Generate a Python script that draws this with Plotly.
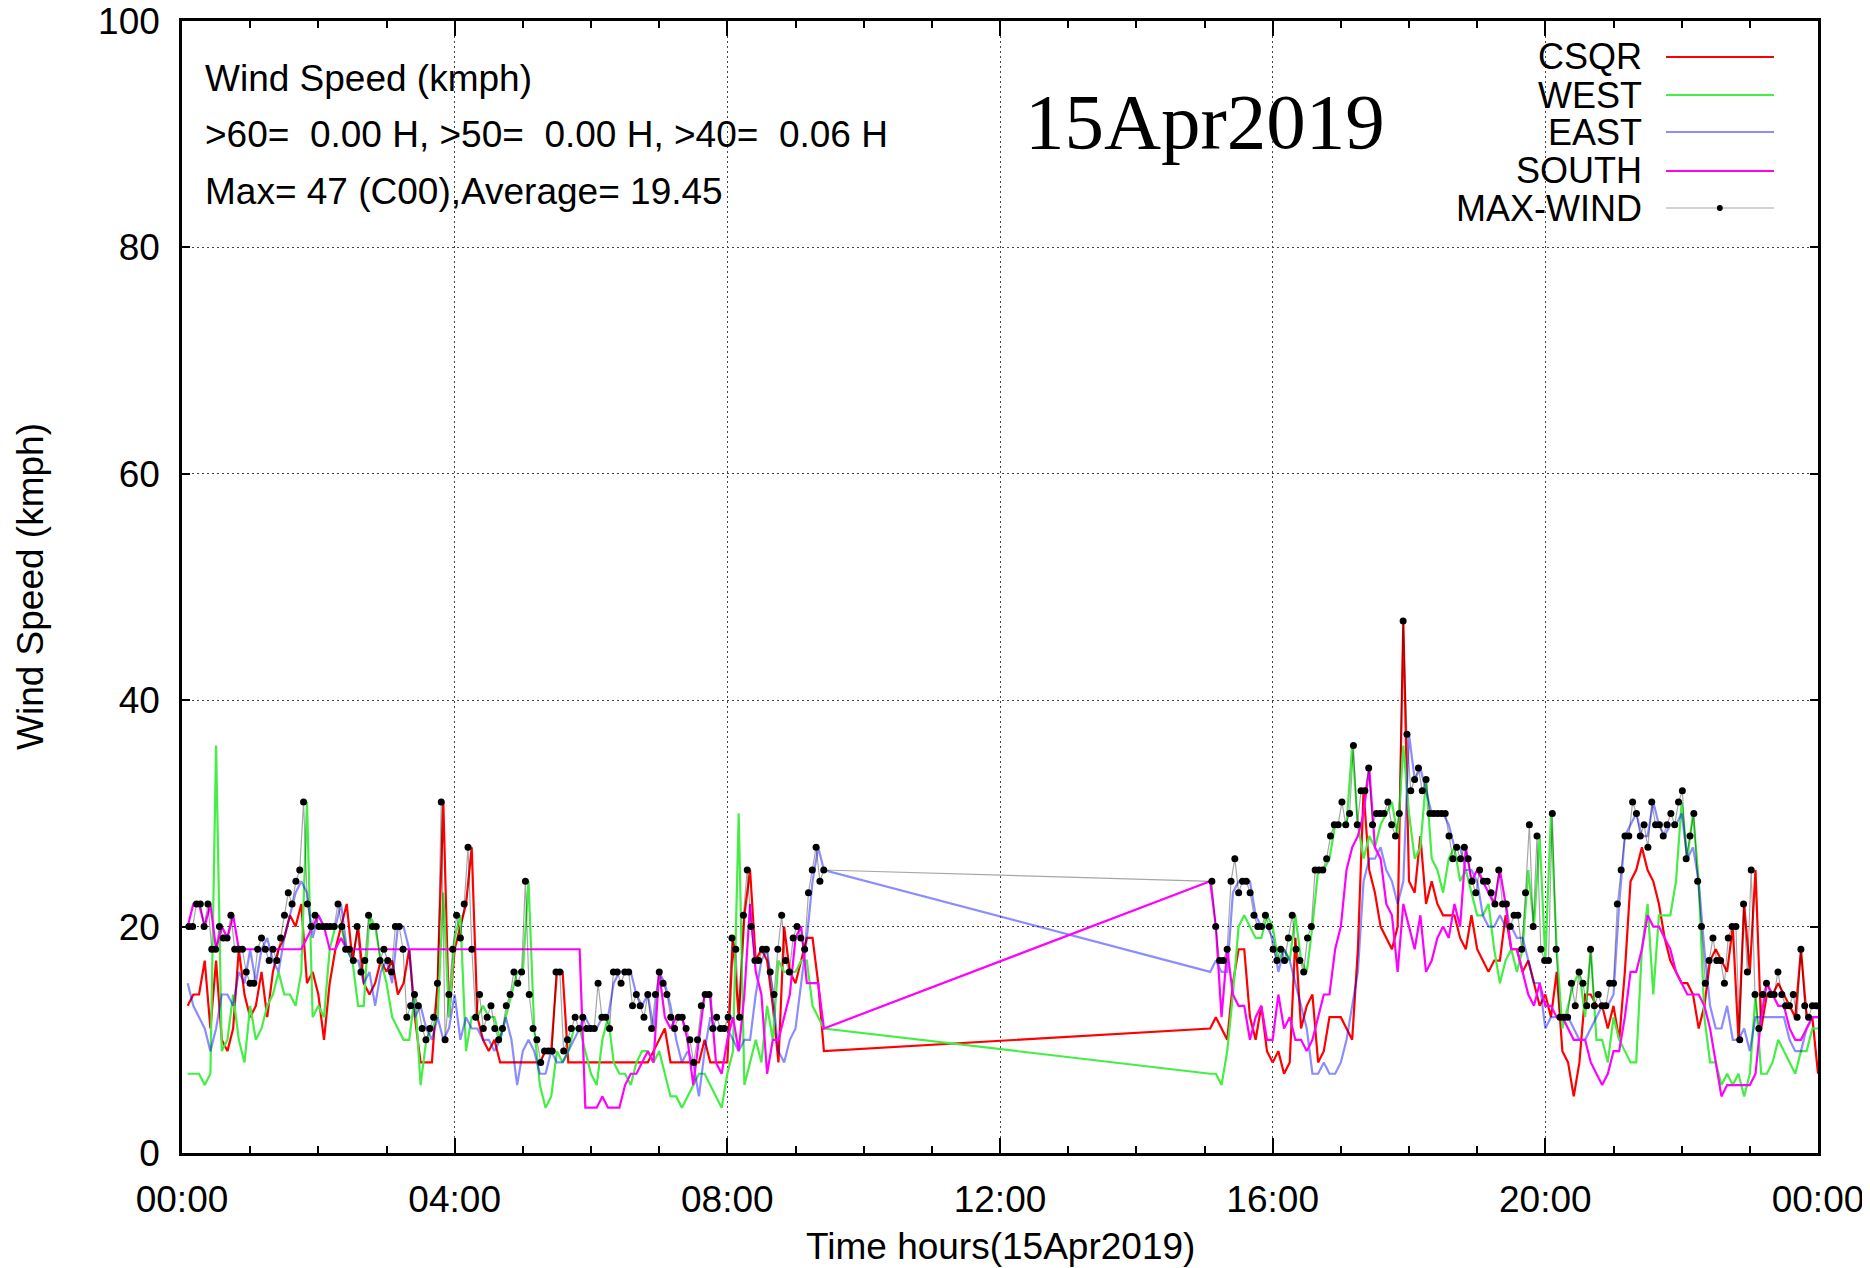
import pandas as pd
import plotly.graph_objects as go

# five minute samples, morning block starts 00:05, evening block starts 15:05
csqr_am = [13, 14, 14, 17, 11, 17, 10, 9, 11, 18, 14, 12, 13, 16, 12, 16, 18, 19, 21, 20,
           22, 15, 16, 14, 10, 15, 18, 20, 22, 17, 20, 15, 14, 15, 17, 16, 17, 14, 15, 18,
           12, 8, 8, 8, 15, 31,
           12, 18, 20, 22, 27, 12, 10, 9, 10, 8, 8, 8, 8, 8, 8, 8, 8, 9, 9, 16,
           16, 8, 8, 8, 8, 8, 8, 8, 8, 8, 8, 8, 8, 8, 8, 8, 9, 10, 11, 8,
           8, 8, 8, 8, 8,
           10, 8, 8, 8, 8, 19, 12, 21, 25, 17, 18, 17, 13, 8, 20, 16, 15, 17, 19, 19,
           15, 9]
csqr_pm = [11, 12, 11, 10, 15, 18, 18, 12, 10, 13, 9, 8, 9, 7, 8, 19, 11, 13, 14, 8,
           9, 12, 12, 12, 11, 10, 18, 32, 25, 23, 20, 19, 18, 20, 47, 24, 23, 28, 22, 24,
           22, 21, 21, 21, 19, 18, 21, 18, 17, 16, 17, 17,
           21, 18, 18, 16, 17, 15, 13, 14, 12, 16, 9, 8, 5, 8, 14, 14, 13, 13, 11, 13,
           10, 16, 24, 25, 27, 25, 24, 22, 19, 17, 16, 15, 15, 14, 11, 13, 17, 18, 17, 16,
           20, 10, 22, 16, 25, 11, 14, 14, 15, 14, 13, 12, 18, 12, 12, 7]

west_am = [7, 7, 7, 6, 7, 36, 9, 10, 14, 10, 8, 13, 10, 11, 13, 14, 16, 14, 14, 13,
           16, 31, 12, 13, 12, 18, 20, 20, 18, 17, 13, 13, 21, 20, 17, 15, 12, 11, 10, 10,
           14, 6, 10, 11, 12, 23,
           12, 19, 21, 9, 12, 12, 13, 12, 12, 10, 12, 14, 16, 16, 24, 11, 6, 4, 5, 9,
           8, 9, 11, 11, 9, 7, 6, 10, 12, 8, 7, 7, 6, 8, 9, 9, 8, 9, 7, 5,
           5, 4, 5, 6, 7,
           7, 6, 5, 4, 7, 9, 30, 6, 8, 10, 8, 13, 10, 17, 16, 16, 16, 17, 17, 13,
           12, 11]
west_pm = [7, 7, 6, 9, 14, 20, 21, 20, 19, 19, 21, 20, 17, 18, 17, 21, 17, 16, 20, 25,
           25, 26, 29, 29, 29, 36, 29, 26, 28, 27, 29, 30, 31, 28, 36, 30, 26, 27, 33, 26,
           25, 23, 26, 27, 24, 25, 23, 21, 21, 22, 18, 15,
           17, 18, 16, 18, 25, 20, 28, 17, 30, 18, 11, 13, 15, 16, 12, 18, 10, 10, 8, 12,
           10, 9, 8, 8, 18, 22, 14, 21, 21, 21, 24, 31, 26, 30, 24, 12, 8, 8, 6, 7,
           6, 7, 5, 7, 14, 7, 7, 8, 10, 9, 8, 7, 9, 9, 11, 11]

east_am = [15, 13, 12, 11, 9, 11, 14, 14, 13, 16, 15, 18, 15, 18, 19, 17, 16, 19, 21, 23,
           24, 23, 19, 21, 20, 20, 20, 22, 18, 17, 17, 15, 16, 13, 16, 17, 15, 20, 20, 18,
           12, 13, 11, 10, 12, 10,
           11, 14, 10, 12, 11, 11, 10, 10, 9, 10, 12, 10, 6, 9, 10, 9, 7, 7, 9, 8,
           8, 9, 10, 11, 12, 11, 11, 12, 12, 15, 16, 16, 16, 14, 13, 14, 11, 16, 15, 13,
           10, 8, 9, 8, 5,
           9, 12, 11, 11, 11, 10, 9, 10, 10, 14, 17, 18, 14, 9, 8, 10, 11, 15, 19, 24,
           27, 25]
east_pm = [16, 17, 16, 16, 23, 24, 24, 24, 21, 20, 20, 19, 16, 18, 17, 15, 13, 11, 7, 7,
           8, 7, 7, 8, 10, 13, 16, 24, 26, 26, 27, 25, 24, 22, 24, 37, 33, 34, 32, 30,
           30, 30, 29, 27, 27, 25, 25, 24, 21, 20, 20, 21,
           20, 20, 19, 19, 17, 15, 15, 11, 12, 12, 12, 12, 11, 10, 10, 11, 12, 13, 13, 14,
           22, 28, 29, 30, 28, 28, 31, 29, 28, 29, 29, 30, 26, 27, 24, 18, 13, 11, 11, 13,
           10, 10, 11, 9, 12, 12, 12, 12, 12, 12, 10, 9, 9, 11, 12, 12]

south_am = [20, 22, 22, 20, 22, 18, 20, 19, 21, 18, 18, 18, 18, 18, 18, 18, 18, 18, 18, 18,
            18, 19, 20, 21, 20, 18, 18, 19, 18, 18, 18, 18, 18, 18, 18, 18, 18, 18, 18, 18,
            18, 18, 18, 18, 18, 18,
            18, 18, 18, 18, 18, 18, 18, 18, 18, 18, 18, 18, 18, 18, 18, 18, 18, 18, 18, 18,
            18, 18, 18, 18, 4, 4, 4, 5, 4, 4, 4, 6, 7, 7, 8, 9, 8, 16, 12, 11,
            12, 12, 10, 6, 10,
            14, 14, 8, 7, 10, 12, 9, 14, 22, 16, 14, 7, 10, 10, 12, 14, 19, 20, 15, 15,
            15, 11]
south_pm = [24, 20, 12, 18, 14, 13, 13, 10, 12, 13, 10, 10, 14, 11, 12, 10, 10, 9, 10, 12,
            14, 14, 18, 20, 25, 27, 28, 30, 34, 27, 26, 22, 21, 16, 22, 20, 18, 21, 16, 17,
            19, 20, 19, 22, 20, 27, 24, 25, 24, 23, 22, 25,
            22, 18, 18, 16, 14, 13, 15, 13, 13, 12, 12, 11, 10, 10, 10, 8, 7, 6, 7, 9,
            9, 12, 16, 16, 18, 21, 20, 20, 19, 18, 16, 15, 14, 14, 14, 13, 11, 8, 5, 6,
            6, 6, 6, 6, 7, 12, 15, 14, 13, 13, 11, 10, 10, 11, 12, 12]

# max wind is logged more often (~202 s), from 00:06 and from 15:06:30
max_am = [20, 20, 22, 22, 20, 22, 18, 18, 20, 19, 19, 21, 18, 18, 18, 16, 15, 15, 18, 19,
          18, 17, 18, 17, 19, 21, 23, 22, 24, 25, 31, 22, 20, 21, 20, 20, 20, 20, 20, 22,
          20, 18, 18, 17, 20, 16, 17, 21, 20, 20, 17, 18, 17, 16, 20, 20, 18, 12, 13, 14,
          13, 11, 10, 11, 12, 15, 31, 10,
          14, 18, 21, 19, 22, 27, 18, 12, 14, 11, 12, 13, 11, 10, 11, 13, 14, 16, 15, 16,
          24, 14, 11, 10, 8, 9, 9, 9, 16, 16, 9, 10, 11, 12, 11, 12, 11, 11, 11, 15,
          12, 12, 11, 16, 16, 15, 16, 16, 13, 14, 13, 12, 14, 11, 14, 16, 15, 14, 12, 11,
          12, 12, 11,
          10, 8, 10, 13, 14, 14, 11, 12, 11, 11, 12, 19, 18, 12, 21, 25, 20, 17, 17, 18,
          18, 16, 14, 18, 21, 17, 16, 19, 20, 19, 18, 23, 25, 27, 24, 25]
max_pm = [24, 20, 17, 17, 18, 24, 26, 23, 24, 24, 23, 21, 20, 20, 21, 20, 18, 17, 18, 17,
          19, 21, 18, 17, 16, 19, 20, 25, 25, 25, 26, 28, 29, 29, 31, 29, 30, 36, 29, 32,
          32, 34, 29, 30, 30, 30, 31, 29, 28, 30, 47, 37, 32, 33, 34, 32, 33, 30, 30, 30,
          30, 30, 28, 26, 27, 26, 27, 26, 24, 23, 25, 24, 24, 23, 22, 25,
          22, 22, 20, 21, 21, 18, 23, 29, 20, 28, 18, 17, 17, 30, 18, 12, 12, 12, 15, 13,
          16, 15, 13, 18, 13, 14, 13, 13, 15, 15, 22, 25, 28, 28, 31, 30, 28, 29, 27, 31,
          29, 29, 28, 29, 30, 29, 31, 32, 26, 28, 30, 24, 20, 15, 17, 19, 17, 17, 15, 19,
          20, 20, 10, 22, 16, 25, 14, 11, 14, 15, 14, 14, 16, 14, 13, 13, 14, 12, 18, 13,
          12, 13, 13]

t_am = pd.date_range("2019-04-15 00:05", periods=len(csqr_am), freq="5min")
t_pm = pd.date_range("2019-04-15 15:05", periods=len(csqr_pm), freq="5min")
tm_am = pd.date_range("2019-04-15 00:06", periods=len(max_am), freq="202s")
tm_pm = pd.date_range("2019-04-15 15:06:30", periods=len(max_pm), freq="202s")
t_all = list(t_am) + list(t_pm)
tm_all = list(tm_am) + list(tm_pm)

FONT = "Liberation Sans, Arial, sans-serif"

series = [
    ("CSQR", csqr_am + csqr_pm, "#ff0000"),
    ("WEST", west_am + west_pm, "#44ee44"),
    ("EAST", east_am + east_pm, "rgba(0,0,255,0.45)"),
    ("SOUTH", south_am + south_pm, "#ff00ff"),
]

fig = go.Figure()
for name, vals, col in series:
    fig.add_trace(go.Scatter(x=t_all, y=vals, name=name, mode="lines",
                             line=dict(color=col, width=2.2), showlegend=False))

fig.add_trace(go.Scatter(x=tm_all, y=max_am + max_pm, name="MAX-WIND",
                         mode="lines+markers",
                         line=dict(color="rgba(0,0,0,0.35)", width=1.2),
                         marker=dict(color="black", size=7),
                         showlegend=False))

# gnuplot style key: label on the left, sample on the right
legend_rows = [0.9682, 0.9346, 0.9019, 0.8675, 0.8348]
legend_cols = ["#ff0000", "#44ee44", "#8c8cff", "#ff00ff", "#a6a6a6"]
legend_names = ["CSQR", "WEST", "EAST", "SOUTH", "MAX-WIND"]
annotations = []
shapes = []
for yy, col, name in zip(legend_rows, legend_cols, legend_names):
    annotations.append(dict(x=0.8936, y=yy, xref="paper", yref="paper", text=name,
                            showarrow=False, xanchor="right", yanchor="middle",
                            font=dict(family=FONT, size=36, color="black")))
    shapes.append(dict(type="line", xref="paper", yref="paper", x0=0.9071, x1=0.9731,
                       y0=yy, y1=yy, line=dict(color=col, width=2 if name != "MAX-WIND" else 1.2)))
shapes.append(dict(type="circle", xref="paper", yref="paper", x0=0.9382, x1=0.9418,
                   y0=legend_rows[-1] - 0.0026, y1=legend_rows[-1] + 0.0026,
                   fillcolor="black", line=dict(color="black", width=0)))

info_lines = ["Wind Speed (kmph)",
              ">60=  0.00 H, >50=  0.00 H, >40=  0.06 H",
              "Max= 47 (C00),Average= 19.45"]
for yy, txt in zip([0.9488, 0.8993, 0.8498], info_lines):
    annotations.append(dict(x=0.0128, y=yy, xref="paper", yref="paper", text=txt.replace("  ", "&nbsp; "),
                            showarrow=False, xanchor="left", yanchor="middle",
                            font=dict(family=FONT, size=37, color="black")))

annotations.append(dict(x=0.514, y=0.9108, xref="paper", yref="paper", text="15Apr2019",
                        showarrow=False, xanchor="left", yanchor="middle",
                        font=dict(family="Liberation Serif, Times New Roman, serif",
                                  size=79, color="black")))
annotations.append(dict(x=0.5, y=-0.083, xref="paper", yref="paper",
                        text="Time hours(15Apr2019)", showarrow=False,
                        xanchor="center", yanchor="middle",
                        font=dict(family=FONT, size=37, color="black")))
annotations.append(dict(x=-0.0929, y=0.5, xref="paper", yref="paper",
                        text="Wind Speed (kmph)", showarrow=False, textangle=-90,
                        xanchor="center", yanchor="middle",
                        font=dict(family=FONT, size=37, color="black")))

# page body has an 8px margin, so the figure is 8px smaller and margins shifted
fig.update_layout(
    width=1862, height=1260,
    margin=dict(l=174, r=52, t=13, b=115, autoexpand=False),
    plot_bgcolor="white", paper_bgcolor="white",
    font=dict(family=FONT, size=37, color="black"),
    annotations=annotations, shapes=shapes,
    showlegend=False,
)
fig.update_xaxes(
    type="date", range=["2019-04-15 00:00", "2019-04-16 00:00"],
    tick0="2019-04-15", dtick=4 * 3600 * 1000, tickformat="%H:%M",
    ticks="inside", ticklen=15, tickwidth=1.5, tickcolor="black",
    showline=True, linewidth=2.5, linecolor="black", mirror="allticks",
    showgrid=True, gridcolor="#444", griddash="2px,3px", gridwidth=1,
    zeroline=False, ticklabelstandoff=12, automargin=False,
    ticklabeloverflow="allow",
    minor=dict(dtick=3600 * 1000, ticks="inside", ticklen=7, tickwidth=1.5,
               tickcolor="black", showgrid=False),
)
fig.update_yaxes(
    range=[0, 100], dtick=20,
    ticks="inside", ticklen=8, tickwidth=1.5, tickcolor="black",
    showline=True, linewidth=2.5, linecolor="black", mirror="allticks",
    showgrid=True, gridcolor="#444", griddash="2px,3px", gridwidth=1,
    zeroline=False, ticklabelstandoff=12, automargin=False,
    ticklabeloverflow="allow",
)

fig.write_html("out.html")
